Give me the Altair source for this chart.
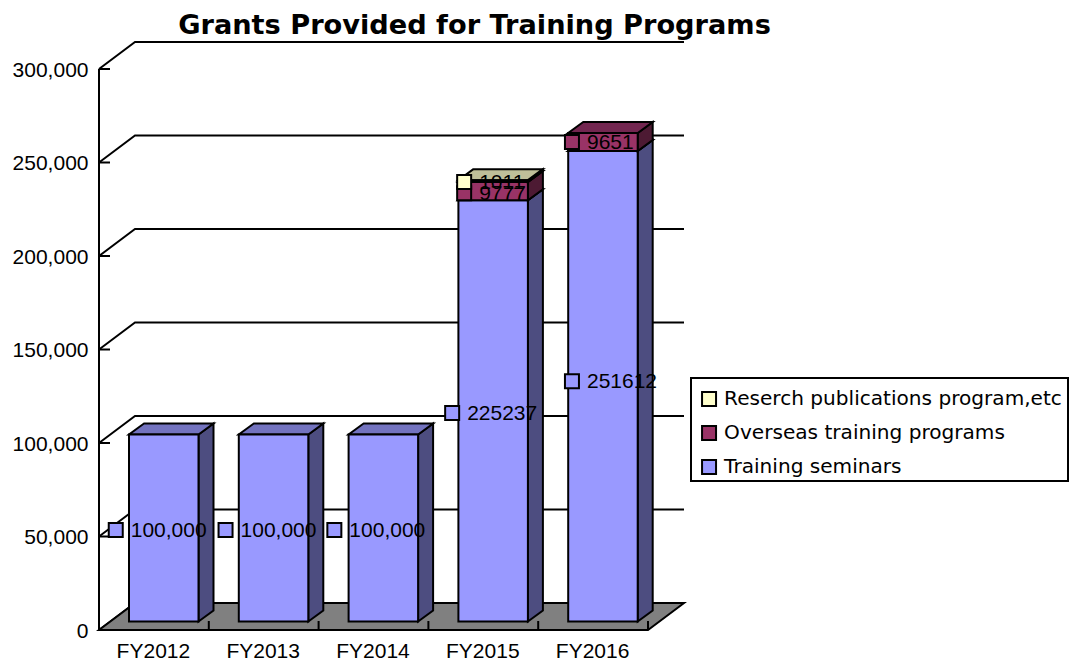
import altair as alt
import pandas as pd

# ---- values ----
YEARS = ["FY2012", "FY2013", "FY2014", "FY2015", "FY2016"]
SEMINARS = [100000, 100000, 100000, 225237, 251612]
OVERSEAS = [0, 0, 0, 9777, 9651]
PUBLICATIONS = [0, 0, 0, 1011, 0]
SEMINAR_TEXT = ["100,000", "100,000", "100,000", "225237", "251612"]
OVERSEAS_TEXT = ["", "", "", "9777", "9651"]
PUBLICATION_TEXT = ["", "", "", "1011", ""]
Y_TICKS = [0, 50000, 100000, 150000, 200000, 250000, 300000]
SERIES = ["Reserch publications program,etc", "Overseas training programs", "Training seminars"]
FRONT = ["#FFFFCC", "#993366", "#9999FF"]
TOP = ["#BFBF99", "#732650", "#7373BF"]
SIDE = ["#808066", "#4D1A33", "#4D4D80"]
TITLE = "Grants Provided for Training Programs"

# ---- pseudo-3D projection: one category = 109.8px, 100,000 = 187px ----
CAT_PX = 109.8
VAL_PX = 187 / 100000
PLOT_W, PLOT_H = 585, 587
px = lambda p: p / CAT_PX
vy = lambda p: p / VAL_PX
X_DOM = [0, px(PLOT_W)]
Y_DOM = [0, vy(PLOT_H)]
WALL_X, WALL_Y = px(36), vy(27)
BAR_X, BAR_Y = px(15), vy(11)
BAR_LEFT, BAR_W = px(30), px(69.5)
BAR_BASE = vy(8.5)
SANS = "Liberation Sans"
xs = alt.Scale(domain=X_DOM, nice=False, zero=False)
ys = alt.Scale(domain=Y_DOM, nice=False, zero=False)
color = alt.Scale(domain=SERIES, range=FRONT)
x_labels = "['" + "','".join(YEARS) + "'][floor(datum.value)]"
x_axis = alt.Axis(
    values=[i + 0.5 for i in range(5)], labelExpr=x_labels, domain=False, ticks=False, grid=False,
    labelFont=SANS, labelFontSize=21, labelColor="black", labelPadding=10, labelAngle=0, labelFlush=False, labelOffset=-1)
y_axis = alt.Axis(
    values=Y_TICKS, labelExpr="format(datum.value, ',')", domain=False, ticks=False, grid=False,
    labelFont=SANS, labelFontSize=21, labelColor="black", labelPadding=11, labelOffset=1)
X = lambda f: alt.X(f, type="quantitative", scale=xs, axis=x_axis, title=None)
Y = lambda f: alt.Y(f, type="quantitative", scale=ys, axis=y_axis, title=None)
EDGE = dict(stroke="black", strokeWidth=2)

# walls: one polyline per y tick
wall = pd.DataFrame([
    r for v in Y_TICKS for r in (
        {"t": v, "x": 0, "y": v}, {"t": v, "x": WALL_X, "y": v + WALL_Y},
        {"t": v, "x": 5 + WALL_X, "y": v + WALL_Y})
])
walls = alt.Chart(wall).mark_line(color="black", strokeWidth=2).encode(x=X("x"), y=Y("y"), detail="t:N")

floor_df = pd.DataFrame({"y": [0, WALL_Y], "a": [0, WALL_X], "b": [5, 5 + WALL_X]})
floor_mark = alt.Chart(floor_df).mark_area(orient="horizontal", color="#808080", **EDGE).encode(
    y=Y("y"), x=X("a"), x2="b")

axis_line = alt.Chart(pd.DataFrame({"x": [0], "y": [0], "y2": [300000]})).mark_rule(**EDGE).encode(
    x=X("x"), y=Y("y"), y2="y2")
y_ticks = alt.Chart(pd.DataFrame({"y": Y_TICKS, "a": [0] * 7, "b": [px(11)] * 7})).mark_rule(**EDGE).encode(
    y=Y("y"), x=X("a"), x2="b")
x_ticks = alt.Chart(pd.DataFrame({"x": list(range(1, 6)), "a": [0] * 5, "b": [vy(9)] * 5})).mark_rule(**EDGE).encode(
    x=X("x"), y=Y("a"), y2="b")
base_line = alt.Chart(pd.DataFrame({"y": [0], "a": [0], "b": [5]})).mark_rule(**EDGE).encode(
    y=Y("y"), x=X("a"), x2="b")

# backdrop of the legend, placed with the same scales
legend_box = alt.Chart(pd.DataFrame({"l": [px(592)], "r": [px(969)], "b": [vy(149)], "t": [vy(252)]})).mark_rect(
    fill="white", **EDGE).encode(x=X("l"), x2="r", y=Y("b"), y2="t")

# bars: stack the three series, bottom first
layers = []
values = [PUBLICATIONS, OVERSEAS, SEMINARS]
texts = [PUBLICATION_TEXT, OVERSEAS_TEXT, SEMINAR_TEXT]
bottom = [0] * 5
labels = []
# label marker offset from the bar's centre, and y nudge, in pixels
NUDGE = {
    2: [(-48, 2), (-48, 2), (-49, 2), (-41, 2), (-31, -5)],
    1: [(0, 0), (0, 0), (0, 0), (-29, 2), (-31, 0)],
    0: [(0, 0), (0, 0), (0, 0), (-29, 1), (0, 0)],
}
for s in [2, 1, 0]:
    front, side, top = [], [], []
    for i, v in enumerate(values[s]):
        lo, hi = bottom[i] + BAR_BASE, bottom[i] + BAR_BASE + v
        bottom[i] += v
        if not v:
            continue
        l = i + BAR_LEFT
        r = l + BAR_W
        front.append({"series": SERIES[s], "l": l, "r": r, "lo": lo, "hi": hi})
        side += [{"k": i, "x": r, "y": lo, "y2": hi}, {"k": i, "x": r + BAR_X, "y": lo + BAR_Y, "y2": hi + BAR_Y}]
        top += [{"k": i, "y": hi, "a": l, "b": r}, {"k": i, "y": hi + BAR_Y, "a": l + BAR_X, "b": r + BAR_X}]
        ox, oy = NUDGE[s][i]
        labels.append({"series": SERIES[s], "x": (l + r) / 2 + px(ox), "y": (lo + hi) / 2 - vy(oy), "text": texts[s][i]})
    layers.append(alt.Chart(pd.DataFrame(side)).mark_area(color=SIDE[s], **EDGE).encode(
        x=X("x"), y=Y("y"), y2="y2", detail="k:N"))
    layers.append(alt.Chart(pd.DataFrame(top)).mark_area(orient="horizontal", color=TOP[s], **EDGE).encode(
        y=Y("y"), x=X("a"), x2="b", detail="k:N"))
    layers.append(alt.Chart(pd.DataFrame(front)).mark_rect(**EDGE).encode(
        x=X("l"), x2="r", y=Y("lo"), y2="hi",
        color=alt.Color("series:N", scale=color, legend=alt.Legend(
            title=None, orient="none", legendX=592, legendY=338,
            padding=8, symbolType="square", symbolSize=196, symbolStrokeColor="black", symbolStrokeWidth=2,
            labelFont="DejaVu Sans", labelFontSize=20.1, labelColor="black", labelLimit=400, labelOffset=5,
            rowPadding=11, symbolOffset=0))))

lab = pd.DataFrame(labels)
marker = alt.Chart(lab).mark_square(size=196, opacity=1, **EDGE).encode(
    x=X("x"), y=Y("y"), color=alt.Color("series:N", scale=color, legend=None))
text = alt.Chart(lab).mark_text(align="left", baseline="middle", dx=15, dy=1, font=SANS, fontSize=21, color="black").encode(
    x=X("x"), y=Y("y"), text="text:N")

chart = alt.layer(walls, floor_mark, axis_line, y_ticks, x_ticks, base_line, legend_box, *layers, text, marker).properties(
    width=PLOT_W, height=PLOT_H,
    title=alt.TitleParams(TITLE, font="DejaVu Sans", fontSize=27.2, fontWeight="bold", color="black",
                          anchor="middle", dx=83, offset=0, dy=2),
    autosize=alt.AutoSizeParams(type="none"),
    padding={"left": 91, "top": 35, "right": 385, "bottom": 32},
    background="white",
).configure_view(stroke=None)

chart.save("out.html", embed_options={"renderer": "svg", "actions": False})
